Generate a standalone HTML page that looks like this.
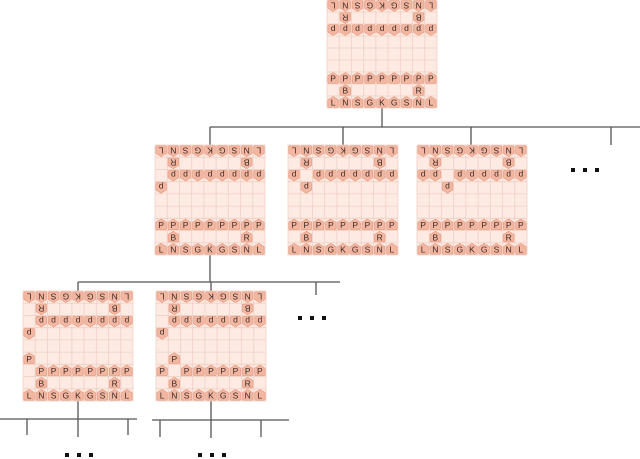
<!DOCTYPE html>
<html><head><meta charset="utf-8">
<style>
html,body{margin:0;padding:0;background:#fff;width:640px;height:459px;overflow:hidden}
svg{display:block}
</style></head>
<body>
<svg id="s" width="640" height="459" viewBox="0 0 640 459" xmlns="http://www.w3.org/2000/svg" font-family="Liberation Sans, sans-serif">
<g stroke="#555" stroke-width="1.3" fill="none">
<line x1="382" y1="108" x2="382" y2="127"/>
<line x1="210" y1="127" x2="640" y2="127"/>
<line x1="210" y1="127" x2="210" y2="145"/>
<line x1="343" y1="127" x2="343" y2="145"/>
<line x1="471" y1="127" x2="471" y2="145"/>
<line x1="611" y1="127" x2="611" y2="145"/>
<line x1="210" y1="255" x2="210" y2="282"/>
<line x1="78" y1="282" x2="340" y2="282"/>
<line x1="78" y1="282" x2="78" y2="291"/>
<line x1="211" y1="282" x2="211" y2="291"/>
<line x1="316" y1="282" x2="316" y2="295"/>
<line x1="78" y1="401" x2="78" y2="437"/>
<line x1="0" y1="419" x2="137" y2="419"/>
<line x1="27" y1="419" x2="27" y2="435"/>
<line x1="128" y1="419" x2="128" y2="435"/>
<line x1="211" y1="401" x2="211" y2="438"/>
<line x1="152" y1="420" x2="289" y2="420"/>
<line x1="160" y1="420" x2="160" y2="437"/>
<line x1="261" y1="420" x2="261" y2="437"/>
</g>
<g fill="#111">
<rect x="571" y="168" width="4" height="4"/><rect x="583" y="168" width="4" height="4"/><rect x="595" y="168" width="4" height="4"/>
<rect x="298" y="316" width="4" height="4"/><rect x="310" y="316" width="4" height="4"/><rect x="322" y="316" width="4" height="4"/>
<rect x="65" y="453" width="4" height="4"/><rect x="77" y="453" width="4" height="4"/><rect x="89" y="453" width="4" height="4"/>
<rect x="198" y="453" width="4" height="4"/><rect x="210" y="453" width="4" height="4"/><rect x="222" y="453" width="4" height="4"/>
</g>
<g id="boards"></g>
</svg>
<script>
(function(){
function base(){
  var b=[];for(var r=0;r<9;r++){b.push([]);for(var c=0;c<9;c++)b[r].push(null);}
  var back="LNSGKGSNL";
  for(var c=0;c<9;c++){b[0][c]=[back[c],1];b[2][c]=["p",1];b[6][c]=["P",0];b[8][c]=[back[c],0];}
  b[1][1]=["R",1];b[1][7]=["B",1];b[7][1]=["B",0];b[7][7]=["R",0];
  return b;
}
function mv(b,r1,c1,r2,c2){b[r2][c2]=b[r1][c1];b[r1][c1]=null;return b;}
var boards=[
 [327,0,base()],
 [155,145,mv(base(),2,0,3,0)],
 [288,145,mv(base(),2,1,3,1)],
 [417,145,mv(base(),2,2,3,2)],
 [23,291,mv(mv(base(),2,0,3,0),6,0,5,0)],
 [156,291,mv(mv(base(),2,0,3,0),6,1,5,1)]
];
var h="";
boards.forEach(function(bd){
  var x0=bd[0],y0=bd[1],b=bd[2],cw=110/9,ch=bd[1]==0?108/9:110/9;
  h+='<rect x="'+x0+'" y="'+y0+'" width="110" height="'+(ch*9)+'" fill="#fdeae2" stroke="#efd3c8" stroke-width="0.8"/>';
  for(var i=1;i<9;i++){
    h+='<line x1="'+(x0+i*cw)+'" y1="'+y0+'" x2="'+(x0+i*cw)+'" y2="'+(y0+ch*9)+'" stroke="#efd0c5" stroke-width="0.8"/>';
    h+='<line x1="'+x0+'" y1="'+(y0+i*ch)+'" x2="'+(x0+110)+'" y2="'+(y0+i*ch)+'" stroke="#efd0c5" stroke-width="0.8"/>';
  }
  for(var r=0;r<9;r++)for(var c=0;c<9;c++){
    var p=b[r][c];if(!p)continue;
    var cx=x0+c*cw+cw/2,cy=y0+r*ch+ch/2;
    var tr=p[1]?' transform="rotate(180 '+cx+' '+cy+')"':'';
    h+='<g'+tr+'><path d="M'+(cx-5.3)+' '+(cy-2.2)+' L'+cx+' '+(cy-5.5)+' L'+(cx+5.3)+' '+(cy-2.2)+' L'+(cx+5.3)+' '+(cy+4)+' Q'+(cx+5.3)+' '+(cy+5.3)+' '+(cx+4)+' '+(cy+5.3)+' L'+(cx-4)+' '+(cy+5.3)+' Q'+(cx-5.3)+' '+(cy+5.3)+' '+(cx-5.3)+' '+(cy+4)+' Z" fill="#f3b6a0" stroke="#e59c84" stroke-width="0.6"/>'+
       '<text x="'+cx+'" y="'+(cy+3.6)+'" font-size="8.5" text-anchor="middle" fill="#3a2a26">'+p[0]+'</text></g>';
  }
});
document.getElementById("boards").innerHTML=h;
})();
</script>
</body></html>
